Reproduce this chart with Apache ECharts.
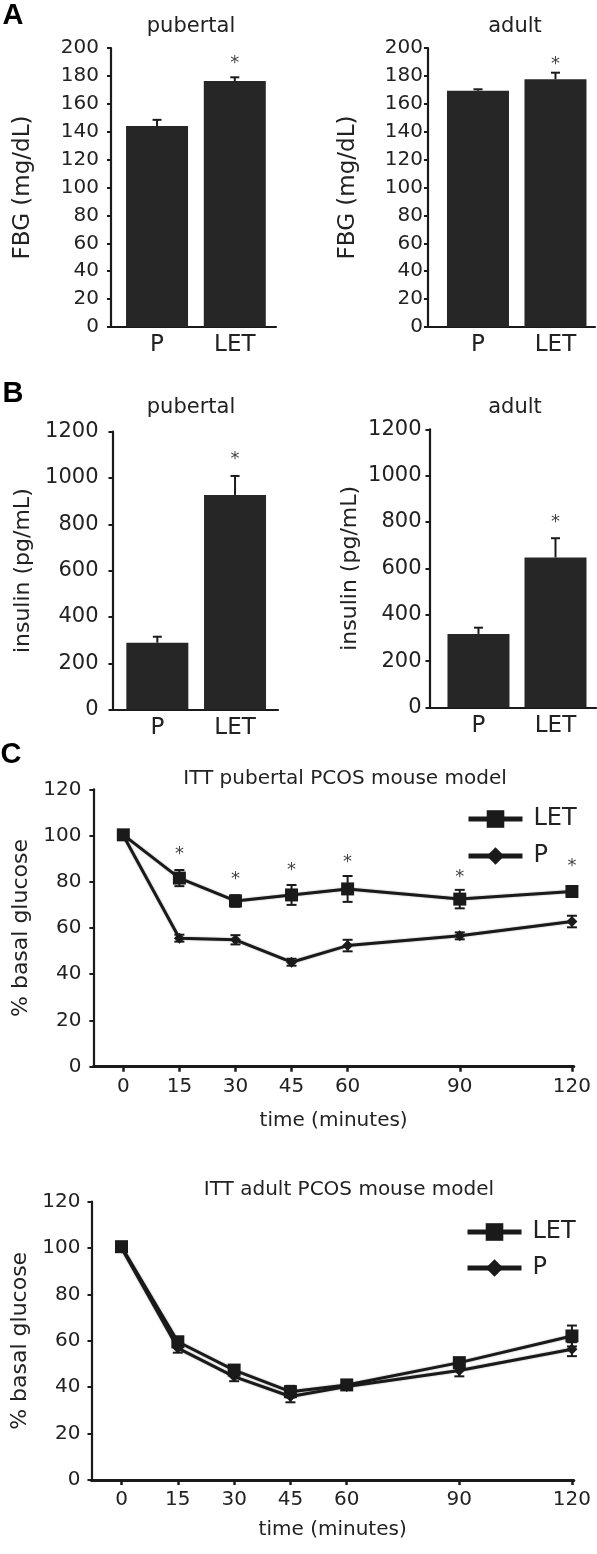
<!DOCTYPE html>
<html>
<head>
<meta charset="utf-8">
<script src="https://cdn.jsdelivr.net/npm/echarts@6/dist/echarts.min.js"></script>
<style>
html,body{margin:0;padding:0;background:#fff;}
#chart{width:597px;height:1554px;}
</style>
</head>
<body>
<div id="chart"></div>
<script>
// ---------- data ----------
const barCats = ['P', 'LET'];
const fbgTicks = [0, 20, 40, 60, 80, 100, 120, 140, 160, 180, 200];
const insulinTicks = [0, 200, 400, 600, 800, 1000, 1200];
const glucoseTicks = [0, 20, 40, 60, 80, 100, 120];
const timePoints = [0, 15, 30, 45, 60, 90, 120];

const fbgPubertal = [144, 176.3];
const fbgPubertalErr = [4.5, 2.7];
const fbgPubertalStars = [null, 192];
const fbgAdult = [169.4, 177.6];
const fbgAdultErr = [1, 4.7];
const fbgAdultStars = [null, 191];

const insPubertal = [289, 927];
const insPubertalErr = [26, 82];
const insPubertalStars = [null, 1096];
const insAdult = [317, 647];
const insAdultErr = [27, 83];
const insAdultStars = [null, 817];

const ittPubLET = [100.3, 81.6, 71.7, 74.3, 76.9, 72.5, 75.8];
const ittPubLETErr = [1.5, 3.5, 2.5, 4.3, 5.6, 4, 2];
const ittPubP = [100, 55.6, 54.9, 45.2, 52.4, 56.6, 62.8];
const ittPubPErr = [1, 1.5, 2, 1.5, 2.5, 1.5, 2.5];
const ittPubStars = [null, 93.8, 82.6, 86.6, 90.2, 83.7, 88.3];

const ittAdLET = [100.6, 59.6, 47.4, 38.1, 41, 50.6, 62.1];
const ittAdLETErr = [1.5, 2, 2, 2.5, 1.5, 2, 4.5];
const ittAdP = [100, 56.9, 44.6, 36, 40.3, 47.2, 56.4];
const ittAdPErr = [1.5, 2, 2, 2.5, 1.5, 2.5, 3];

// ---------- style ----------
const FONT = 'DejaVu Sans';
const INK = '#1a1a1a';
const TXT = '#222';
const BAR = '#262626';

const chart = echarts.init(document.getElementById('chart'), null, {renderer: 'canvas'});

function errRender(capW, upOnly) {
  return function (params, api) {
    const x = api.value(0), v = api.value(1), e = api.value(2);
    const top = api.coord([x, v + e]);
    const bot = api.coord([x, upOnly ? v : v - e]);
    const st = {stroke: INK, lineWidth: 2};
    const ch = [
      {type: 'line', shape: {x1: top[0], y1: top[1], x2: bot[0], y2: bot[1]}, style: st},
      {type: 'line', shape: {x1: top[0] - capW / 2, y1: top[1], x2: top[0] + capW / 2, y2: top[1]}, style: st}
    ];
    if (!upOnly) ch.push({type: 'line', shape: {x1: bot[0] - capW / 2, y1: bot[1], x2: bot[0] + capW / 2, y2: bot[1]}, style: st});
    return {type: 'group', children: ch};
  };
}
function starRender(params, api) {
  const p = api.coord([api.value(0), api.value(1)]);
  return {type: 'text', x: p[0], y: p[1] + 4,
    style: {text: '*', fill: '#444', font: '18px "' + FONT + '"', textAlign: 'center', textVerticalAlign: 'middle'}};
}

const axisLine = {show: true, onZero: false, lineStyle: {color: INK, width: 2.2}};

const grids = [
  {left: 111, top: 48, width: 165, height: 279},
  {left: 428, top: 48, width: 167, height: 279},
  {left: 112.5, top: 431.7, width: 165.5, height: 278},
  {left: 429.5, top: 429.3, width: 166.5, height: 278.1},
  {left: 93.4, top: 789.3, width: 480.4, height: 277.4},
  {left: 91.5, top: 1201.7, width: 482.3, height: 278.3}
].map(g => Object.assign({outerBoundsMode: 'none', containLabel: false}, g));

function barX(i, min, max) {
  return {gridIndex: i, type: 'value', min: min, max: max, axisLine: axisLine,
    axisTick: {show: false}, splitLine: {show: false},
    axisLabel: {customValues: [1, 2], formatter: v => barCats[Math.round(v) - 1], fontFamily: FONT, fontSize: 23, color: TXT, margin: 7}};
}
function valY(i, ticks, name, nameGap, labelMargin, fs, nfs) {
  return {gridIndex: i, type: 'value', min: ticks[0], max: ticks[ticks.length - 1], interval: ticks[1] - ticks[0],
    axisLine: axisLine, axisTick: {show: true, length: 4, lineStyle: {color: INK, width: 2}},
    splitLine: {show: false},
    axisLabel: {fontFamily: FONT, fontSize: fs, color: TXT, margin: labelMargin, formatter: v => String(v)},
    name: name, nameLocation: 'middle', nameGap: nameGap,
    nameTextStyle: {fontFamily: FONT, fontSize: nfs, color: TXT}};
}
function timeX(i, nameGap) {
  return {gridIndex: i, type: 'value', min: -8, max: 120.5, axisLine: Object.assign({}, axisLine, {lineStyle: {color: INK, width: 3}}),
    axisTick: {show: true, length: 5, customValues: timePoints, lineStyle: {color: INK, width: 2.5}},
    splitLine: {show: false},
    axisLabel: {customValues: timePoints, fontFamily: FONT, fontSize: 20, color: TXT, margin: 10, formatter: v => String(v)},
    name: 'time (minutes)', nameLocation: 'middle', nameGap: nameGap,
    nameTextStyle: {fontFamily: FONT, fontSize: 20, color: TXT}};
}

function barSeries(i, vals, errs, stars) {
  return [
    {type: 'bar', xAxisIndex: i, yAxisIndex: i, barWidth: 62, itemStyle: {color: BAR},
      data: barCats.map((c, j) => [j + 1, vals[j]]), silent: true},
    {type: 'custom', xAxisIndex: i, yAxisIndex: i, renderItem: errRender(9, true), z: 3,
      data: barCats.map((c, j) => [j + 1, vals[j], errs[j]]), silent: true},
    {type: 'custom', xAxisIndex: i, yAxisIndex: i, renderItem: starRender, z: 3,
      data: stars.map((s, j) => [j + 1, s]).filter(d => d[1] != null), silent: true}
  ];
}
function lineSeries(i, name, vals, errs, symbol, size) {
  return [
    {type: 'line', name: name, xAxisIndex: i, yAxisIndex: i, symbol: symbol, symbolSize: size,
      lineStyle: {color: INK, width: 3, shadowBlur: 2, shadowColor: 'rgba(0,0,0,0.35)'},
      itemStyle: {color: INK}, data: timePoints.map((t, j) => [t, vals[j]]), z: 4, silent: true},
    {type: 'custom', xAxisIndex: i, yAxisIndex: i, renderItem: errRender(10, false), z: 3,
      data: timePoints.map((t, j) => [t, vals[j], errs[j]]), silent: true}
  ];
}

const titleStyle = {fontFamily: FONT, fontSize: 21, fontWeight: 'normal', color: TXT};
function ttl(text, x, y, style) {
  return {text: text, left: x, top: y, textAlign: 'center', textVerticalAlign: 'middle', padding: 0,
    textStyle: Object.assign({}, titleStyle, style || {})};
}
const letterStyle = {fontFamily: 'Liberation Sans', fontSize: 29, fontWeight: 'bold', color: '#000'};

const legendBase = {orient: 'vertical', itemWidth: 54, itemHeight: 22, itemGap: 13, padding: 0,
  data: ['LET', 'P'], selectedMode: false,
  lineStyle: {width: 5},
  textStyle: {fontFamily: FONT, fontSize: 24, color: TXT, padding: [0, 0, 0, 6]}};

chart.setOption({
  animation: false,
  backgroundColor: '#fff',
  title: [
    ttl('A', 13, 16, letterStyle),
    ttl('B', 13, 394, letterStyle),
    ttl('C', 11, 755, letterStyle),
    ttl('pubertal', 191, 27),
    ttl('adult', 515, 27),
    ttl('pubertal', 191, 408),
    ttl('adult', 515, 408),
    ttl('ITT pubertal PCOS mouse model', 345, 779, {fontSize: 20}),
    ttl('ITT adult PCOS mouse model', 349, 1190, {fontSize: 20})
  ],
  legend: [
    Object.assign({left: 466, top: 807}, legendBase),
    Object.assign({left: 465, top: 1220}, legendBase, {itemGap: 12})
  ],
  grid: grids,
  xAxis: [
    barX(0, 0.408, 2.53),
    barX(1, 0.355, 2.51),
    barX(2, 0.423, 2.553),
    barX(3, 0.364, 2.526),
    timeX(4, 44),
    timeX(5, 40)
  ],
  yAxis: [
    valY(0, fbgTicks, 'FBG (mg/dL)', 76, 12, 20, 23),
    valY(1, fbgTicks, 'FBG (mg/dL)', 68, 5, 20, 23),
    valY(2, insulinTicks, 'insulin (pg/mL)', 78, 14, 21, 22),
    valY(3, insulinTicks, 'insulin (pg/mL)', 68, 8, 21, 22),
    valY(4, glucoseTicks, '% basal glucose', 56, 12, 20, 22),
    valY(5, glucoseTicks, '% basal glucose', 54, 11, 20, 22)
  ],
  series: [].concat(
    barSeries(0, fbgPubertal, fbgPubertalErr, fbgPubertalStars),
    barSeries(1, fbgAdult, fbgAdultErr, fbgAdultStars),
    barSeries(2, insPubertal, insPubertalErr, insPubertalStars),
    barSeries(3, insAdult, insAdultErr, insAdultStars),
    lineSeries(4, 'LET', ittPubLET, ittPubLETErr, 'rect', 13),
    lineSeries(4, 'P', ittPubP, ittPubPErr, 'diamond', 11),
    [{type: 'custom', xAxisIndex: 4, yAxisIndex: 4, renderItem: starRender, z: 5, silent: true,
      data: timePoints.map((t, j) => [t, ittPubStars[j]]).filter(d => d[1] != null)}],
    lineSeries(5, 'LET', ittAdLET, ittAdLETErr, 'rect', 13),
    lineSeries(5, 'P', ittAdP, ittAdPErr, 'diamond', 11)
  )
});
</script>
</body>
</html>
